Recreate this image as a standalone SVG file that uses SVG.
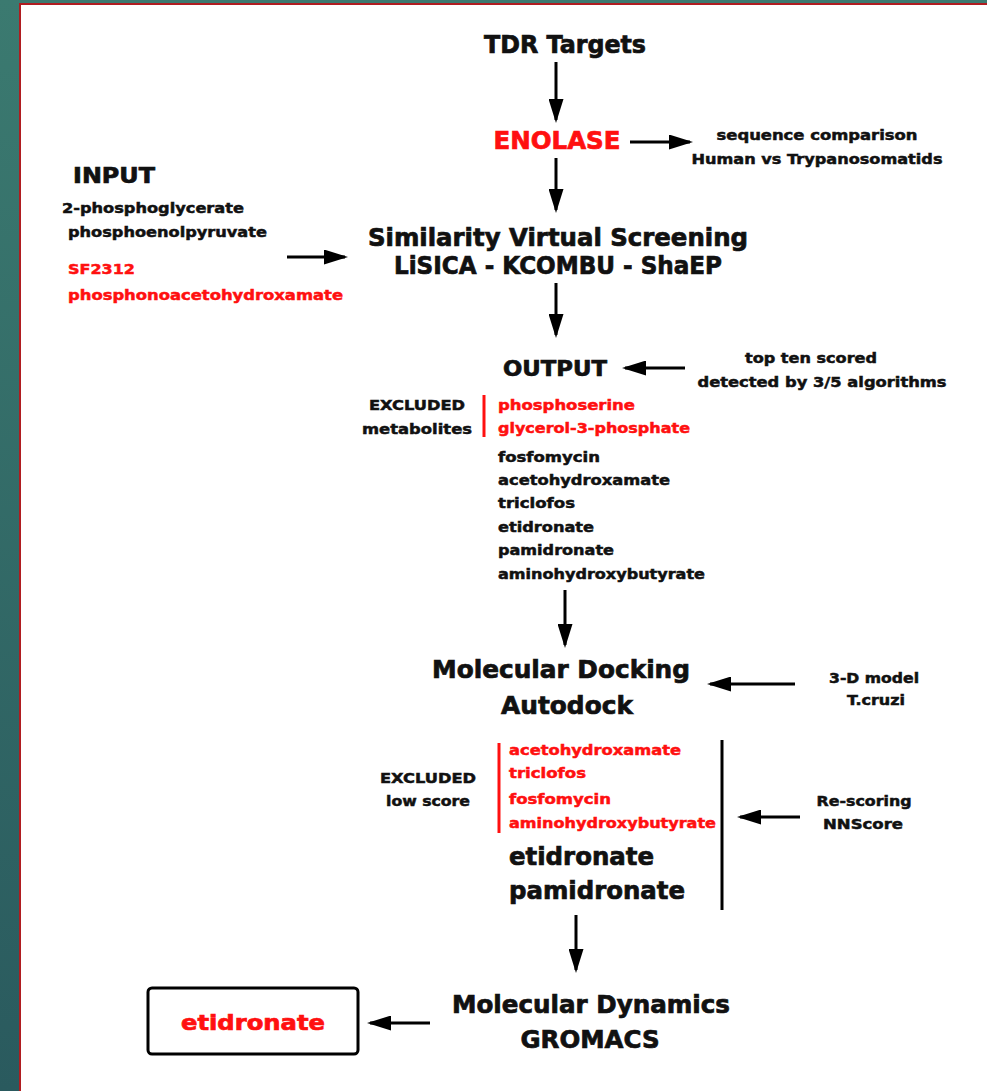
<svg xmlns="http://www.w3.org/2000/svg" width="987" height="1091" viewBox="0 0 987 1091">
<defs>
<linearGradient id="bg" x1="0" y1="0" x2="0" y2="1">
<stop offset="0" stop-color="#3b7a70"/>
<stop offset="1" stop-color="#2a5a5e"/>
</linearGradient>
<marker id="ah" markerWidth="8" markerHeight="5" refX="7" refY="2.5" orient="auto" markerUnits="strokeWidth">
<path d="M0,0 L8,2.5 L0,5 Z" fill="#000"/>
</marker>
<style>
text{font-family:"DejaVu Sans","Liberation Sans",sans-serif;font-weight:bold;fill:#111;stroke:#111;stroke-width:0.7}
.s{font-size:14px;stroke-width:0.5}
.m{font-size:21px}
.b{font-size:24px}
.r{fill:#ff1010;stroke:#ff1010}
.c{text-anchor:middle}
.arr{stroke:#000;stroke-width:3;fill:none;marker-end:url(#ah)}
</style>
</defs>
<rect x="0" y="0" width="987" height="1091" fill="url(#bg)"/>
<rect x="20" y="4" width="970" height="1090" fill="#fff" stroke="#b01c20" stroke-width="2"/>

<g id="connectors">
<line class="arr" x1="556" y1="62" x2="556" y2="120"/>
<line class="arr" x1="630" y1="142" x2="690" y2="142"/>
<line class="arr" x1="556" y1="158" x2="556" y2="210"/>
<line class="arr" x1="287" y1="257" x2="345" y2="257"/>
<line class="arr" x1="556" y1="283" x2="556" y2="335"/>
<line class="arr" x1="685" y1="368" x2="625" y2="368"/>
<line class="arr" x1="565" y1="590" x2="565" y2="645"/>
<line class="arr" x1="795" y1="684" x2="710" y2="684"/>
<line class="arr" x1="800" y1="817" x2="740" y2="817"/>
<line class="arr" x1="576" y1="915" x2="576" y2="970"/>
<line class="arr" x1="430" y1="1023" x2="370" y2="1023"/>
<line x1="484" y1="395" x2="484" y2="437" stroke="#ff1010" stroke-width="3"/>
<line x1="499" y1="743" x2="499" y2="833" stroke="#ff1010" stroke-width="3"/>
<line x1="722" y1="740" x2="722" y2="910" stroke="#000" stroke-width="3"/>
</g>

<g id="tdr"><text class="b c" x="565" y="53" textLength="162" lengthAdjust="spacingAndGlyphs">TDR Targets</text></g>
<g id="enolase"><text class="b c r" x="557" y="149" textLength="127" lengthAdjust="spacingAndGlyphs">ENOLASE</text></g>
<g id="seqcomp">
<text class="s c" x="817" y="140" textLength="201" lengthAdjust="spacingAndGlyphs">sequence comparison</text>
<text class="s c" x="817" y="164" textLength="251" lengthAdjust="spacingAndGlyphs">Human vs Trypanosomatids</text>
</g>
<g id="input">
<text class="m" x="73" y="183" textLength="82" lengthAdjust="spacingAndGlyphs">INPUT</text>
<text class="s" x="62" y="213" textLength="182" lengthAdjust="spacingAndGlyphs">2-phosphoglycerate</text>
<text class="s" x="68" y="237" textLength="199" lengthAdjust="spacingAndGlyphs">phosphoenolpyruvate</text>
<text class="s r" x="68" y="274" textLength="67" lengthAdjust="spacingAndGlyphs">SF2312</text>
<text class="s r" x="68" y="300" textLength="275" lengthAdjust="spacingAndGlyphs">phosphonoacetohydroxamate</text>
</g>
<g id="screening">
<text class="b c" x="558" y="246" textLength="380" lengthAdjust="spacingAndGlyphs">Similarity Virtual Screening</text>
<text class="b c" x="558" y="274" textLength="328" lengthAdjust="spacingAndGlyphs">LiSICA - KCOMBU - ShaEP</text>
</g>
<g id="output"><text class="m c" x="555" y="376" textLength="104" lengthAdjust="spacingAndGlyphs">OUTPUT</text></g>
<g id="topten">
<text class="s c" x="811" y="363" textLength="132" lengthAdjust="spacingAndGlyphs">top ten scored</text>
<text class="s c" x="822" y="387" textLength="249" lengthAdjust="spacingAndGlyphs">detected by 3/5 algorithms</text>
</g>
<g id="excluded1">
<text class="s c" x="417" y="410" textLength="96" lengthAdjust="spacingAndGlyphs">EXCLUDED</text>
<text class="s c" x="417" y="434" textLength="110" lengthAdjust="spacingAndGlyphs">metabolites</text>
</g>
<g id="outlist">
<text class="s r" x="498" y="410" textLength="137" lengthAdjust="spacingAndGlyphs">phosphoserine</text>
<text class="s r" x="498" y="433" textLength="192" lengthAdjust="spacingAndGlyphs">glycerol-3-phosphate</text>
<text class="s" x="498" y="462" textLength="102" lengthAdjust="spacingAndGlyphs">fosfomycin</text>
<text class="s" x="498" y="485" textLength="172" lengthAdjust="spacingAndGlyphs">acetohydroxamate</text>
<text class="s" x="498" y="508" textLength="77" lengthAdjust="spacingAndGlyphs">triclofos</text>
<text class="s" x="498" y="532" textLength="96" lengthAdjust="spacingAndGlyphs">etidronate</text>
<text class="s" x="498" y="555" textLength="116" lengthAdjust="spacingAndGlyphs">pamidronate</text>
<text class="s" x="498" y="579" textLength="207" lengthAdjust="spacingAndGlyphs">aminohydroxybutyrate</text>
</g>
<g id="docking">
<text class="b c" x="561" y="678" textLength="258" lengthAdjust="spacingAndGlyphs">Molecular Docking</text>
<text class="b c" x="567" y="714" textLength="132" lengthAdjust="spacingAndGlyphs">Autodock</text>
</g>
<g id="model">
<text class="s c" x="874" y="683" textLength="90" lengthAdjust="spacingAndGlyphs">3-D model</text>
<text class="s c" x="876" y="705" textLength="58" lengthAdjust="spacingAndGlyphs">T.cruzi</text>
</g>
<g id="excluded2">
<text class="s c" x="428" y="783" textLength="96" lengthAdjust="spacingAndGlyphs">EXCLUDED</text>
<text class="s c" x="428" y="806" textLength="84" lengthAdjust="spacingAndGlyphs">low score</text>
</g>
<g id="docklist">
<text class="s r" x="509" y="755" textLength="172" lengthAdjust="spacingAndGlyphs">acetohydroxamate</text>
<text class="s r" x="509" y="778" textLength="77" lengthAdjust="spacingAndGlyphs">triclofos</text>
<text class="s r" x="509" y="804" textLength="102" lengthAdjust="spacingAndGlyphs">fosfomycin</text>
<text class="s r" x="509" y="828" textLength="207" lengthAdjust="spacingAndGlyphs">aminohydroxybutyrate</text>
<text class="b" x="509" y="865" textLength="145" lengthAdjust="spacingAndGlyphs">etidronate</text>
<text class="b" x="509" y="899" textLength="176" lengthAdjust="spacingAndGlyphs">pamidronate</text>
</g>
<g id="rescoring">
<text class="s c" x="864" y="806" textLength="95" lengthAdjust="spacingAndGlyphs">Re-scoring</text>
<text class="s c" x="863" y="829" textLength="80" lengthAdjust="spacingAndGlyphs">NNScore</text>
</g>
<g id="dynamics">
<text class="b c" x="591" y="1013" textLength="278" lengthAdjust="spacingAndGlyphs">Molecular Dynamics</text>
<text class="b c" x="590" y="1048" textLength="139" lengthAdjust="spacingAndGlyphs">GROMACS</text>
</g>
<g id="result">
<rect x="148" y="988" width="210" height="66" rx="4" fill="#fff" stroke="#000" stroke-width="3"/>
<text class="m c r" x="253" y="1030" textLength="144" lengthAdjust="spacingAndGlyphs">etidronate</text>
</g>
</svg>
